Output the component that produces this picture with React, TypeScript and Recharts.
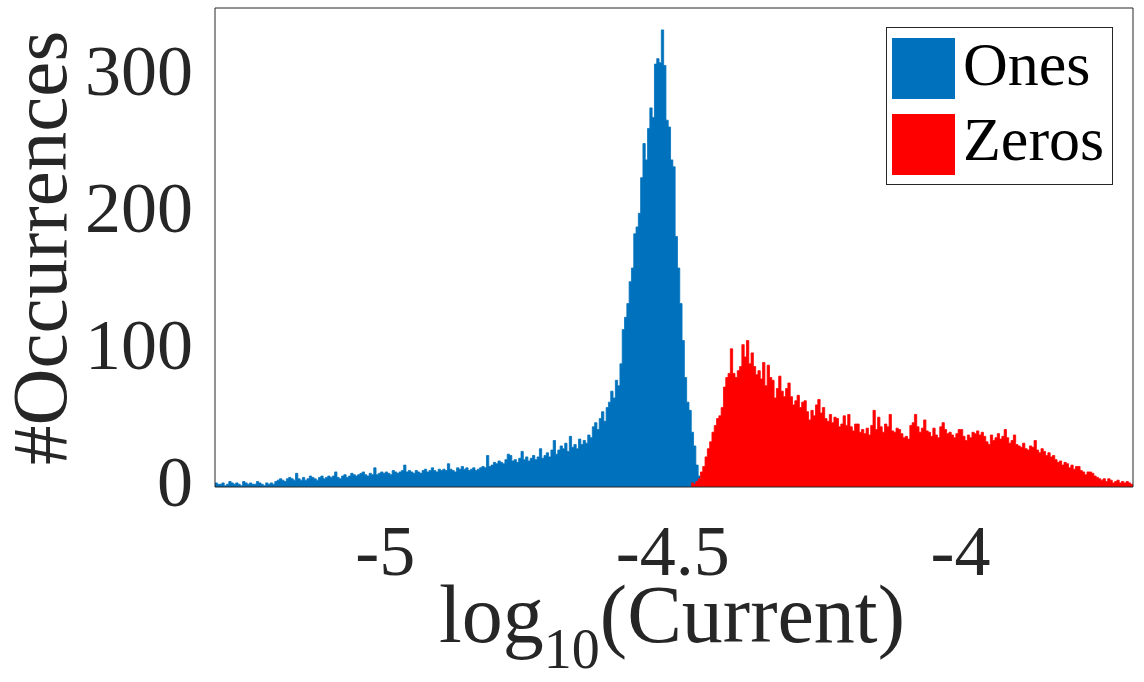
import React from 'react';
import { ComposedChart, Area, XAxis, YAxis, Legend } from 'recharts';

// Histogram bin grid (bin edges on log10 scale)
const BIN_START = -5.296;
const BIN_WIDTH = 0.004;
const ZEROS_FIRST_BIN = 207;

// Counts per bin for "Ones" (starting at BIN_START)
const onesCounts = [
  3, 2, 2, 3, 1, 2, 4, 3, 2, 3, 2, 1, 4, 3, 2, 3, 2, 2, 4, 3, 2, 1, 3, 2, 3, 2,
  4, 5, 6, 5, 4, 6, 7, 6, 5, 10, 6, 5,
  7, 5, 6, 8, 7, 6, 5, 7, 8, 6, 7, 8, 7, 8, 11, 7, 6,
  8, 9, 7, 8, 10, 9, 8, 9, 10, 11, 9, 8, 10, 9, 14, 9, 10,
  11, 10, 11, 10, 9, 12, 11, 10, 11, 12, 16, 11, 12, 11, 10, 12, 11, 10,
  12, 13, 11, 12, 14, 12, 11, 13, 12, 13, 12, 17, 13, 12, 11,
  14, 13, 15, 13, 14, 12, 13, 14, 12, 13, 14, 15, 14, 23, 15,
  16, 18, 17, 19, 18, 17, 20, 24, 23, 19, 20, 18, 21, 26,
  20, 22, 19, 21, 23, 20, 22, 28, 21, 23, 25, 22, 27, 34, 24, 27,
  30, 28, 32, 26, 37, 29, 31, 28, 35, 31, 34, 32, 38, 36, 44,
  47, 42, 50, 55, 48, 58, 62, 70, 65, 78, 74, 90,
  115, 124, 134, 150, 160, 185, 190, 200, 226, 251, 239, 262, 277, 270, 309, 313, 310,
  334, 308, 268, 263, 239, 234, 183, 160, 134, 107, 80, 62, 56, 40, 30, 16, 8,
];

// Counts per bin for "Zeros" (starting at bin ZEROS_FIRST_BIN)
const zerosCounts = [
  3, 2, 4, 6, 11, 15, 22, 28, 33, 40,
  45, 50, 52, 58, 73, 80, 83, 101, 83, 80,
  85, 88, 104, 95, 107, 90, 98, 88, 82, 85,
  79, 91, 74, 89, 80, 78, 65, 72, 81, 70,
  66, 72, 76, 66, 60, 63, 67, 58, 62, 63,
  55, 49, 56, 52, 60, 64, 54, 58, 50, 48,
  53, 47, 51, 50, 44, 46, 52, 45, 53, 44,
  41, 46, 46, 40, 42, 39, 43, 38, 45, 56,
  42, 51, 44, 40, 46, 44, 53, 41, 40, 43,
  42, 39, 36, 37, 35, 45, 47, 53, 44, 40,
  43, 49, 41, 40, 37, 43, 38, 36, 44, 47,
  42, 39, 40, 38, 36, 39, 42, 42, 37, 34,
  38, 36, 40, 39, 41, 38, 40, 37, 33, 31,
  38, 34, 36, 39, 35, 37, 42, 36, 32, 34,
  38, 31, 30, 29, 32, 28, 27, 30, 29, 34,
  27, 25, 28, 26, 23, 25, 22, 23, 20, 18,
  19, 16, 18, 17, 14, 16, 13, 15, 15, 12,
  11, 9, 11, 11, 10, 8, 7, 6, 5, 6,
  4, 6, 5, 3, 4, 5, 3, 4, 3, 4,
  3, 2,
];

const xTicks = [-5, -4.5, -4];
const yTicks = [0, 100, 200, 300];
const yDomain = [0, 350];
const seriesNames = ['Ones', 'Zeros'];
const seriesColors = ['#0072BD', '#FF0000'];

const FONT = "'Liberation Serif', 'DejaVu Serif', serif";
const AXIS_COLOR = '#262626';

const totalBins = ZEROS_FIRST_BIN + zerosCounts.length;
const xMax = BIN_START + totalBins * BIN_WIDTH;

// Build step data: one row per bin edge
const data: any[] = [];
for (let i = 0; i <= totalBins; i++) {
  let ones: number | null = null;
  if (i < onesCounts.length) ones = onesCounts[i];
  else if (i === onesCounts.length) ones = onesCounts[onesCounts.length - 1];
  let zeros: number | null = null;
  const j = i - ZEROS_FIRST_BIN;
  if (j >= 0 && j < zerosCounts.length) zeros = zerosCounts[j];
  else if (j === zerosCounts.length) zeros = zerosCounts[zerosCounts.length - 1];
  data.push({ x: BIN_START + i * BIN_WIDTH, ones, zeros });
}

const XTick = (props: any) => {
  const { x, y, payload } = props;
  return (
    <text x={x} y={y + 88} textAnchor="middle" fontFamily={FONT} fontSize={72} fill={AXIS_COLOR}>
      {String(payload.value)}
    </text>
  );
};

const YTick = (props: any) => {
  const { x, y, payload } = props;
  return (
    <text x={x - 22} y={y + 19} textAnchor="end" fontFamily={FONT} fontSize={72} fill={AXIS_COLOR}>
      {String(payload.value)}
    </text>
  );
};

const XTitle = () => (
  <text x={672} y={642} textAnchor="middle" fontFamily={FONT} fontSize={82} fill={AXIS_COLOR}>
    log
    <tspan fontSize={56} dy={26}>10</tspan>
    <tspan dy={-26}>(Current)</tspan>
  </text>
);

const YTitle = () => (
  <text
    transform="translate(66,248) rotate(-90)"
    textAnchor="middle"
    fontFamily={FONT}
    fontSize={79}
    fill={AXIS_COLOR}
  >
    #Occurrences
  </text>
);

const LegendBox = () => (
  <div
    style={{
      boxSizing: 'border-box',
      width: 227,
      height: 158,
      border: `1px solid ${AXIS_COLOR}`,
      background: '#fff',
      position: 'relative',
      fontFamily: FONT,
    }}
  >
    {seriesNames.map((n, k) => (
      <React.Fragment key={n}>
        <div
          style={{
            position: 'absolute',
            left: 5,
            top: 10 + k * 76,
            width: 63,
            height: 61,
            background: seriesColors[k],
          }}
        />
        <span
          style={{
            position: 'absolute',
            left: 76,
            top: 5 + k * 75,
            fontSize: 62,
            lineHeight: '62px',
            color: '#000',
            whiteSpace: 'nowrap',
          }}
        >
          {n}
        </span>
      </React.Fragment>
    ))}
  </div>
);

export default function App() {
  return (
    <div style={{ position: 'absolute', left: 0, top: 0, width: 1144, height: 682, background: '#fff' }}>
      <ComposedChart
        width={1144}
        height={682}
        data={data}
        margin={{ top: 8, right: 11, bottom: 0, left: 0 }}
      >
        <XAxis
          xAxisId="x"
          dataKey="x"
          type="number"
          domain={[BIN_START, xMax]}
          allowDataOverflow
          ticks={xTicks}
          tickLine={false}
          tickSize={0}
          tickMargin={0}
          height={195}
          axisLine={{ stroke: AXIS_COLOR, strokeWidth: 1 }}
          tick={<XTick />}
          label={<XTitle />}
          interval={0}
        />
        <XAxis
          xAxisId="top"
          dataKey="x"
          type="number"
          orientation="top"
          mirror
          domain={[BIN_START, xMax]}
          allowDataOverflow
          ticks={xTicks}
          tick={false}
          tickSize={9}
          height={1}
          axisLine={{ stroke: AXIS_COLOR, strokeWidth: 1 }}
          tickLine={{ stroke: AXIS_COLOR, strokeWidth: 1 }}
          interval={0}
        />
        <YAxis
          yAxisId="y"
          type="number"
          domain={yDomain}
          allowDataOverflow
          ticks={yTicks}
          tickLine={false}
          tickSize={0}
          tickMargin={0}
          width={215}
          axisLine={{ stroke: AXIS_COLOR, strokeWidth: 1 }}
          tick={<YTick />}
          label={<YTitle />}
          interval={0}
        />
        <YAxis
          yAxisId="leftTicks"
          type="number"
          orientation="left"
          mirror
          domain={yDomain}
          allowDataOverflow
          ticks={yTicks}
          tick={false}
          tickSize={9}
          width={1}
          axisLine={false}
          tickLine={{ stroke: AXIS_COLOR, strokeWidth: 1 }}
          interval={0}
        />
        <YAxis
          yAxisId="right"
          type="number"
          orientation="right"
          mirror
          domain={yDomain}
          allowDataOverflow
          ticks={yTicks}
          tick={false}
          tickSize={9}
          width={1}
          axisLine={{ stroke: AXIS_COLOR, strokeWidth: 1 }}
          tickLine={{ stroke: AXIS_COLOR, strokeWidth: 1 }}
          interval={0}
        />
        <Area
          xAxisId="x"
          yAxisId="y"
          dataKey="ones"
          name={seriesNames[0]}
          type="stepAfter"
          fill={seriesColors[0]}
          fillOpacity={1}
          stroke={seriesColors[0]}
          strokeWidth={0.8}
          baseValue={0}
          dot={false}
          activeDot={false}
          connectNulls={false}
          isAnimationActive={false}
        />
        <Area
          xAxisId="x"
          yAxisId="y"
          dataKey="zeros"
          name={seriesNames[1]}
          type="stepAfter"
          fill={seriesColors[1]}
          fillOpacity={1}
          stroke={seriesColors[1]}
          strokeWidth={0.8}
          baseValue={0}
          dot={false}
          activeDot={false}
          connectNulls={false}
          isAnimationActive={false}
        />
        <Legend
          layout="vertical"
          align="center"
          verticalAlign="middle"
          content={<LegendBox />}
          wrapperStyle={{ position: 'absolute', left: 886, top: 27, width: 227, height: 158 }}
        />
      </ComposedChart>
    </div>
  );
}
